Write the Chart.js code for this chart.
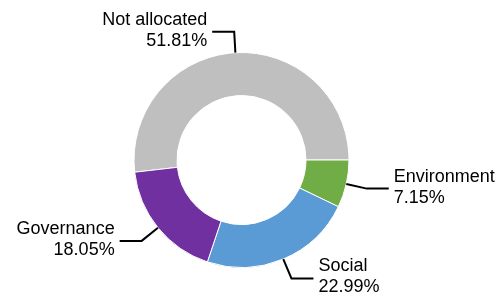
<!DOCTYPE html>
<html>
<head>
<meta charset="utf-8">
<script src="https://cdn.jsdelivr.net/npm/chart.js@4"></script>
<style>
  html, body { margin: 0; padding: 0; background: #fff; }
  #wrap { width: 502px; height: 297px; }
</style>
</head>
<body>
<div id="wrap"><canvas id="donut"></canvas></div>
<script>
const categories = ['Not allocated', 'Environment', 'Social', 'Governance'];
const shares = [51.81, 7.15, 22.99, 18.05];
const sliceColors = ['#bfbfbf', '#70ad47', '#5b9bd5', '#7030a0'];

// gray slice ends at 3 o'clock
const startDeg = 90 - shares[0] * 3.6;

// leader lines + two-line labels
const calloutPlugin = {
  id: 'callouts',
  afterDatasetsDraw(chart) {
    const ctx = chart.ctx;
    const arcs = chart.getDatasetMeta(0).data;
    ctx.save();
    ctx.font = '18px "Liberation Sans", Arial, sans-serif';
    ctx.fillStyle = '#000';
    ctx.strokeStyle = '#000';
    ctx.lineWidth = 2;
    ctx.textBaseline = 'middle';
    arcs.forEach((arc, i) => {
      const mid = (arc.startAngle + arc.endAngle) / 2;
      const r = arc.outerRadius;
      const cx = arc.x, cy = arc.y;
      const x0 = cx + Math.cos(mid) * r, y0 = cy + Math.sin(mid) * r;
      const x1 = cx + Math.cos(mid) * (r + 21), y1 = cy + Math.sin(mid) * (r + 21);
      const dir = x1 < cx - 1 || (Math.abs(x1 - cx) <= 6 && mid < -Math.PI / 2) ? -1 : 1;
      const x2 = x1 + dir * 22;
      ctx.beginPath();
      ctx.moveTo(x0, y0);
      ctx.lineTo(x1, y1);
      ctx.lineTo(x2, y1);
      ctx.stroke();
      ctx.textAlign = dir < 0 ? 'right' : 'left';
      const tx = x2 + dir * 5;
      ctx.fillText(categories[i], tx, y1 - 12);
      ctx.fillText(shares[i].toFixed(2) + '%', tx, y1 + 9);
    });
    ctx.restore();
  }
};

new Chart(document.getElementById('donut'), {
  type: 'doughnut',
  data: {
    labels: categories,
    datasets: [{
      data: shares,
      backgroundColor: sliceColors,
      borderColor: '#fff',
      borderWidth: 1
    }]
  },
  options: {
    responsive: true,
    maintainAspectRatio: false,
    animation: false,
    rotation: startDeg,
    cutout: '60%',
    layout: { padding: { top: 52, bottom: 29, left: 133, right: 152 } },
    plugins: {
      legend: { display: false },
      tooltip: { enabled: false }
    }
  },
  plugins: [calloutPlugin]
});
</script>
</body>
</html>
